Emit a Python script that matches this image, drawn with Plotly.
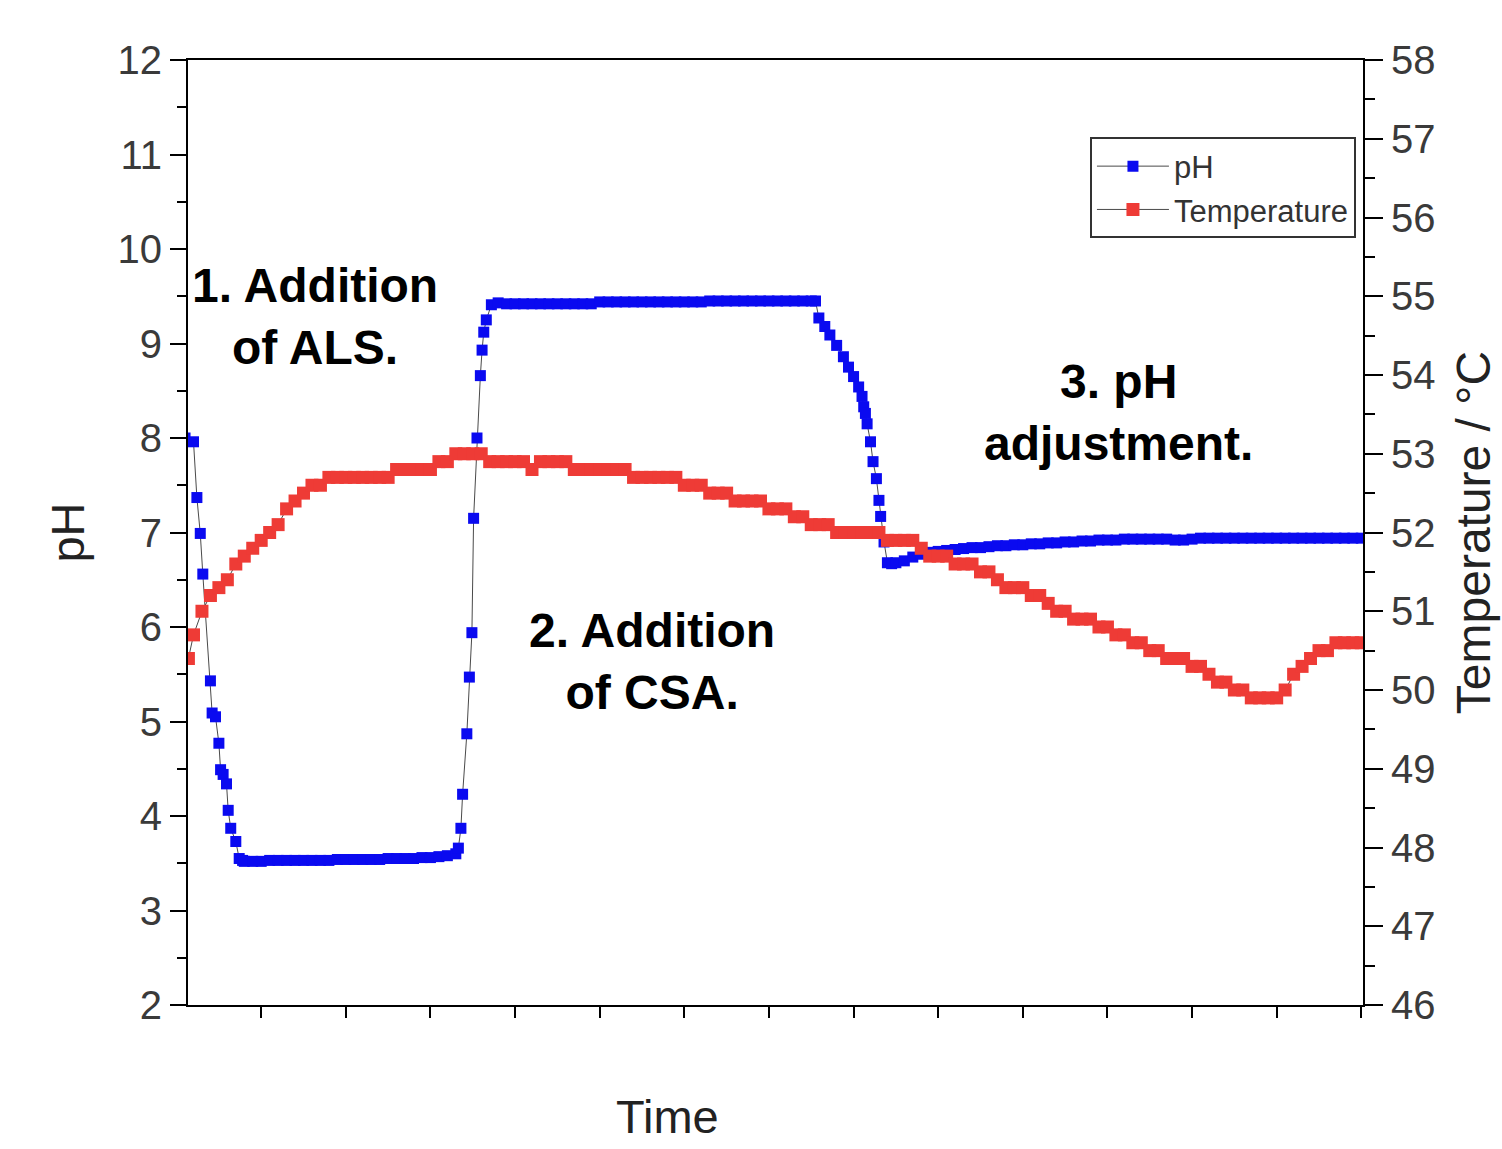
import plotly.graph_objects as go

# ---------------- data ----------------
ph_time = [1.0, 2.0, 2.4, 2.8, 3.1, 4.0, 4.2, 4.6, 5.0, 5.2, 5.5, 5.9, 6.1, 6.4, 7.0, 7.4, 7.8,
           8, 9, 10, 11, 12, 13, 14, 15, 16, 17, 18, 19, 20, 21, 22, 23, 24, 25, 26, 27, 28, 29, 30, 31, 32,
           33.0, 33.3, 33.6, 33.8, 34.3, 34.6, 34.9, 35.1, 35.5, 35.9, 36.1, 36.3, 36.6, 37.2,
           38, 39, 40, 41, 42, 43, 44, 45, 46, 47, 48, 49, 50, 51, 52, 53, 54, 55, 56, 57, 58, 59,
           60, 61, 62, 63, 64, 65, 66, 67, 68, 69, 70, 71, 72, 73, 74, 75, 75.5,
           75.9, 76.6, 77.2, 78.0, 78.8, 79.4, 80.0, 80.6, 81.0, 81.2, 81.4, 81.6, 82.0, 82.3, 82.7,
           83.0, 83.2, 83.6, 84.0, 84.5, 85,
           86, 87, 88, 89, 90, 91, 92, 93, 94, 95, 96, 97, 98, 99, 100, 101, 102, 103, 104, 105,
           106, 107, 108, 109, 110, 111, 112, 113, 114, 115, 116, 117, 118, 119, 120,
           121, 122, 123, 124, 125, 126, 127, 128, 129, 130, 131, 132, 133, 134, 135, 136, 137, 138, 139, 140]

ph_values = [8.00, 7.96, 7.37, 6.99, 6.56, 5.43, 5.09, 5.05, 4.77, 4.49, 4.44, 4.34, 4.06, 3.87, 3.73, 3.55, 3.53,
             3.52, 3.52, 3.52, 3.53, 3.53, 3.53, 3.53, 3.53, 3.53, 3.53, 3.53, 3.54, 3.54, 3.54, 3.54, 3.54,
             3.54, 3.55, 3.55, 3.55, 3.55, 3.56, 3.56, 3.57, 3.58,
             3.60, 3.66, 3.87, 4.23, 4.87, 5.47, 5.94, 7.15, 8.00, 8.66, 8.93, 9.12, 9.25, 9.41,
             9.43, 9.42, 9.42, 9.42, 9.42, 9.42, 9.42, 9.42, 9.42, 9.42, 9.42, 9.42,
             9.44, 9.44, 9.44, 9.44, 9.44, 9.44, 9.44, 9.44, 9.44, 9.44, 9.44, 9.44, 9.44,
             9.45, 9.45, 9.45, 9.45, 9.45, 9.45, 9.45, 9.45, 9.45, 9.45, 9.45, 9.45, 9.45, 9.45,
             9.27, 9.18, 9.09, 8.98, 8.86, 8.75, 8.65, 8.54, 8.44, 8.33, 8.26, 8.15, 7.96, 7.75, 7.57,
             7.34, 7.17, 6.90, 6.68, 6.67, 6.68,
             6.70, 6.74, 6.77, 6.79, 6.80, 6.81, 6.82, 6.83, 6.84, 6.84, 6.85, 6.86, 6.86, 6.87, 6.87,
             6.88, 6.88, 6.89, 6.89, 6.90, 6.90, 6.91, 6.91, 6.92, 6.92, 6.92, 6.93, 6.93, 6.93, 6.93,
             6.93, 6.93, 6.92, 6.92, 6.93,
             6.94, 6.94, 6.94, 6.94, 6.94, 6.94, 6.94, 6.94, 6.94, 6.94, 6.94, 6.94, 6.94, 6.94, 6.94,
             6.94, 6.94, 6.94, 6.94, 6.94]

temp_time = [1.4, 2, 3, 4, 5, 6, 7, 8, 9, 10, 11, 12, 13, 14, 15, 16, 17, 18, 19, 20,
             21, 22, 23, 24, 25, 26, 27, 28, 29, 30, 31, 32, 33, 34, 35, 36, 37, 38, 39, 40,
             41, 42, 43, 44, 45, 46, 47, 48, 49, 50, 51, 52, 53, 54, 55, 56, 57, 58, 59, 60,
             61, 62, 63, 64, 65, 66, 67, 68, 69, 70, 71, 72, 73, 74, 75, 76, 77, 78, 79, 80,
             81, 82, 83, 84, 85, 86, 87, 88, 89, 90, 91, 92, 93, 94, 95, 96, 97, 98, 99, 100,
             101, 102, 103, 104, 105, 106, 107, 108, 109, 110, 111, 112, 113, 114, 115, 116, 117, 118, 119, 120,
             121, 122, 123, 124, 125, 126, 127, 128, 129, 130, 131, 132, 133, 134, 135, 136, 137, 138, 139, 140]

temp_values = [50.4, 50.7, 51.0, 51.2, 51.3, 51.4, 51.6, 51.7, 51.8, 51.9, 52.0, 52.1, 52.3, 52.4, 52.5, 52.6, 52.6, 52.7, 52.7, 52.7,
               52.7, 52.7, 52.7, 52.7, 52.7, 52.8, 52.8, 52.8, 52.8, 52.8, 52.9, 52.9, 53.0, 53.0, 53.0, 53.0, 52.9, 52.9, 52.9, 52.9,
               52.9, 52.8, 52.9, 52.9, 52.9, 52.9, 52.8, 52.8, 52.8, 52.8, 52.8, 52.8, 52.8, 52.7, 52.7, 52.7, 52.7, 52.7, 52.7, 52.6,
               52.6, 52.6, 52.5, 52.5, 52.5, 52.4, 52.4, 52.4, 52.4, 52.3, 52.3, 52.3, 52.2, 52.2, 52.1, 52.1, 52.1, 52.0, 52.0, 52.0,
               52.0, 52.0, 52.0, 51.9, 51.9, 51.9, 51.9, 51.8, 51.7, 51.7, 51.7, 51.6, 51.6, 51.6, 51.5, 51.5, 51.4, 51.3, 51.3, 51.3,
               51.2, 51.2, 51.1, 51.0, 51.0, 50.9, 50.9, 50.9, 50.8, 50.8, 50.7, 50.7, 50.6, 50.6, 50.5, 50.5, 50.4, 50.4, 50.4, 50.3,
               50.3, 50.2, 50.1, 50.1, 50.0, 50.0, 49.9, 49.9, 49.9, 49.9, 50.0, 50.2, 50.3, 50.4, 50.5, 50.5, 50.6, 50.6, 50.6, 50.6]

ph_ticks = [2, 3, 4, 5, 6, 7, 8, 9, 10, 11, 12]
temp_ticks = [46, 47, 48, 49, 50, 51, 52, 53, 54, 55, 56, 57, 58]

FONT = "Liberation Sans, Arial, sans-serif"

fig = go.Figure()
fig.add_trace(go.Scatter(
    x=ph_time, y=ph_values, name="pH", mode="lines+markers",
    line=dict(color="#4a4a4a", width=1),
    marker=dict(symbol="square", size=11, color="#0a0af0", line=dict(width=0)),
    yaxis="y", cliponaxis=True))
fig.add_trace(go.Scatter(
    x=temp_time, y=temp_values, name="Temperature", mode="lines+markers",
    line=dict(color="#4a4a4a", width=1),
    marker=dict(symbol="square", size=13, color="#ee3b36", line=dict(width=0)),
    yaxis="y2", cliponaxis=True))

axis_common = dict(showline=True, linecolor="black", linewidth=2, showgrid=False, zeroline=False,
                   ticks="outside", tickwidth=2, tickcolor="black", automargin=False)

fig.update_layout(
    width=1502, height=1149,
    margin=dict(l=188, r=139, t=60, b=144),
    paper_bgcolor="white", plot_bgcolor="white",
    font=dict(family=FONT, color="#333333"),
    xaxis=dict(**axis_common, range=[1.35, 140.2], tick0=0, dtick=10, ticklen=11,
               showticklabels=False, mirror=True),
    yaxis=dict(**axis_common, range=[2, 12], tickvals=ph_ticks, ticklen=16,
               minor=dict(ticks="outside", dtick=0.5, ticklen=9, tickwidth=2, tickcolor="black"),
               tickfont=dict(size=40, color="#3a3a3a"),
               title=dict(text="pH", font=dict(size=47, color="#222222"), standoff=18)),
    yaxis2=dict(**axis_common, range=[46, 58], tickvals=temp_ticks, ticklen=18,
                overlaying="y", side="right",
                minor=dict(ticks="outside", dtick=0.5, ticklen=10, tickwidth=2, tickcolor="black"),
                tickfont=dict(size=40, color="#3a3a3a"),
                title=dict(text="Temperature / °C", font=dict(size=48, color="#222222"), standoff=22)),
    legend=dict(x=0.994, y=0.918, xanchor="right", yanchor="top",
                bgcolor="white", bordercolor="#333333", borderwidth=2,
                font=dict(size=31, color="#333333"), itemwidth=72,
                tracegroupgap=0),
    showlegend=True,
)

ann_font = dict(family=FONT, size=48, color="black")
fig.add_annotation(text="<b>1. Addition<br>of ALS.</b>", xref="paper", yref="paper",
                   x=0.108, y=0.729, xanchor="center", yanchor="middle",
                   showarrow=False, font=ann_font, align="center")
fig.add_annotation(text="<b>2. Addition<br>of CSA.</b>", xref="paper", yref="paper",
                   x=0.395, y=0.363, xanchor="center", yanchor="middle",
                   showarrow=False, font=ann_font, align="center")
fig.add_annotation(text="<b>3. pH<br>adjustment.</b>", xref="paper", yref="paper",
                   x=0.792, y=0.6275, xanchor="center", yanchor="middle",
                   showarrow=False, font=ann_font, align="center")
fig.add_annotation(text="Time", xref="paper", yref="paper",
                   x=0.4085, y=-0.1185, xanchor="center", yanchor="middle",
                   showarrow=False, font=dict(family=FONT, size=47, color="#222222"))

fig.write_html("out.html")
